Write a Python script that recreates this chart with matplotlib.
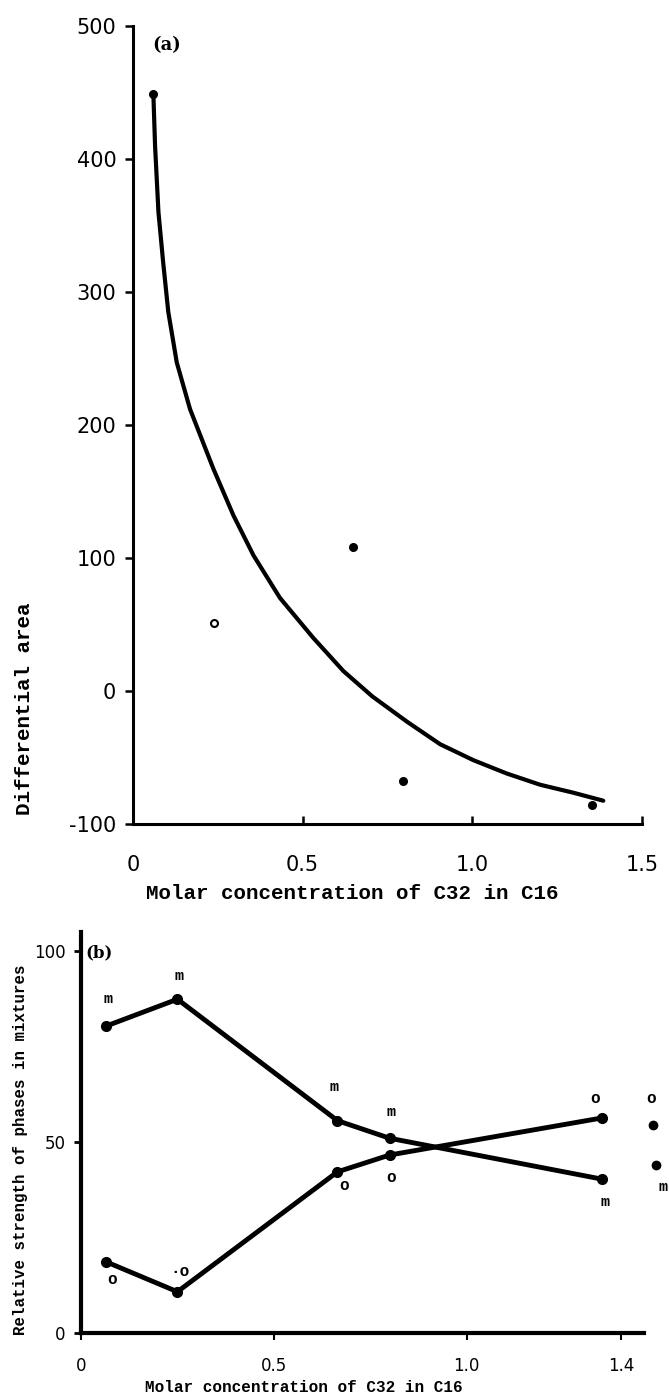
import matplotlib
matplotlib.use("Agg")
import matplotlib.pyplot as plt

# ---------------- data: panel (a) ----------------
a_curve_x = [0.060, 0.065, 0.075, 0.089, 0.104, 0.129, 0.168, 0.217, 0.237, 0.296,
             0.355, 0.433, 0.531, 0.620, 0.705, 0.807, 0.905, 1.003, 1.101, 1.200,
             1.298, 1.386]
a_curve_y = [449, 410, 360, 322, 285, 247, 212, 180, 167, 132,
             102, 70, 40, 15, -4, -23, -40, -52, -62, -70.5,
             -76.5, -82.5]
a_filled_x = [0.06, 0.649, 0.795, 1.352]
a_filled_y = [449, 108, -68, -86]
a_open_x = [0.239]
a_open_y = [51]
a_yticks = [-100, 0, 100, 200, 300, 400, 500]
a_yticklabels = ['-100', '0', '100', '200', '300', '400', '500']
a_xticks = [0, 0.5, 1.0, 1.5]
a_xticklabels = ['0', '0.5', '1.0', '1.5']

# ---------------- data: panel (b) ----------------
b_x = [0.066, 0.25, 0.665, 0.80, 1.35]
b_m_y = [80.4, 87.4, 55.6, 51.0, 40.3]
b_o_y = [18.6, 10.8, 42.2, 46.6, 56.3]
b_extra_x = [1.484, 1.49]
b_extra_y = [54.4, 44.0]
b_m_label_x = [0.07, 0.255, 0.657, 0.805, 1.36, 1.51]
b_m_label_y = [87.4, 93.5, 64.4, 57.9, 34.3, 38.2]
b_o_label_x = [0.081, 0.256, 0.681, 0.805, 1.332, 1.478]
b_o_label_y = [13.9, 16.2, 38.5, 40.8, 61.5, 61.5]
b_o_label_txt = ['o', '\u00b7o', 'o', 'o', 'o', 'o']
b_yticks = [0, 50, 100]
b_xticks = [0, 0.5, 1.0, 1.4]
b_xticklabels = ['0', '0.5', '1.0', '1.4']

W, H = 669, 1395
fig = plt.figure(figsize=(W / 100, H / 100), dpi=100)
mono = 'Liberation Mono'

# ---------------- panel (a) ----------------
axa = fig.add_axes([133 / W, 1 - 824 / H, 509 / W, 798 / H])
axa.set_xlim(0, 1.5)
axa.set_ylim(-100, 500)
for s in ['top', 'right']:
    axa.spines[s].set_visible(False)
for s in ['left', 'bottom']:
    axa.spines[s].set_linewidth(2.2)
axa.plot(a_curve_x, a_curve_y, color='black', lw=3.0, solid_capstyle='round',
         solid_joinstyle='round', zorder=3)
axa.plot(a_filled_x, a_filled_y, 'o', ms=5.5, mfc='black', mec='black', zorder=4, clip_on=False)
axa.plot(a_open_x, a_open_y, 'o', ms=5, mfc='white', mec='black', mew=1.5, zorder=4)
axa.set_yticks(a_yticks)
axa.set_yticklabels(a_yticklabels, fontsize=15, family='DejaVu Sans')
axa.set_xticks(a_xticks)
axa.set_xticklabels(a_xticklabels, fontsize=15, family='DejaVu Sans')
axa.tick_params(axis='y', direction='out', length=6, width=1.8, pad=6)
axa.tick_params(axis='x', direction='in', length=6, width=1.8, pad=22)
axa.set_xlabel('Molar concentration of C32 in C16', fontsize=15, family=mono,
               fontweight='bold')
axa.xaxis.set_label_coords(0.43, -0.0865)
axa.xaxis.label.set_va('center')
axa.set_ylabel('Differential area', fontsize=15, family=mono, fontweight='bold')
axa.yaxis.set_label_coords(-0.214, 0.144)
axa.yaxis.label.set_va('center')
axa.text(0.067, 0.976, '(a)', transform=axa.transAxes, fontsize=13, fontweight='bold',
         family='DejaVu Serif', ha='center', va='center')

# ---------------- panel (b) ----------------
bw = 1.5 * 385.7
axb = fig.add_axes([81 / W, 1 - 1333 / H, bw / W, 401 / H])
axb.set_xlim(0, 1.5)
axb.set_ylim(0, 105)
for s in ['top', 'right']:
    axb.spines[s].set_visible(False)
axb.spines['bottom'].set_bounds(0, 1.46)
for s in ['left', 'bottom']:
    axb.spines[s].set_linewidth(3.0)
axb.plot(b_x, b_m_y, '-o', color='black', lw=3.5, ms=7, zorder=3)
axb.plot(b_x, b_o_y, '-o', color='black', lw=3.5, ms=7, zorder=3)
axb.plot(b_extra_x, b_extra_y, 'o', color='black', ms=6, zorder=3, clip_on=False)
for x, y in zip(b_m_label_x, b_m_label_y):
    axb.text(x, y, 'm', fontsize=11, family=mono, fontweight='bold',
             ha='center', va='center', clip_on=False)
for x, y, t in zip(b_o_label_x, b_o_label_y, b_o_label_txt):
    axb.text(x, y, t, fontsize=11.5, family=mono, fontweight='bold',
             ha='center', va='center', clip_on=False)
axb.set_yticks(b_yticks)
axb.set_yticklabels([str(v) for v in b_yticks], fontsize=12, family='DejaVu Sans')
axb.set_xticks(b_xticks)
axb.set_xticklabels(b_xticklabels, fontsize=12, family='DejaVu Sans')
axb.tick_params(axis='y', direction='out', length=5, width=2, pad=6)
axb.tick_params(axis='x', direction='out', length=5, width=1.5, pad=12)
axb.set_xlabel('Molar concentration of C32 in C16', fontsize=11.5, family=mono,
               fontweight='bold')
axb.xaxis.set_label_coords(0.385, -0.135)
axb.xaxis.label.set_va('center')
axb.set_ylabel('Relative strength of phases in mixtures', fontsize=11.3, family=mono,
               fontweight='bold')
axb.yaxis.set_label_coords(-0.104, 0.456)
axb.yaxis.label.set_va('center')
axb.text(0.031, 0.948, '(b)', transform=axb.transAxes, fontsize=12, fontweight='bold',
         family='DejaVu Serif', ha='center', va='center')

fig.savefig('out.png', dpi=100, facecolor='white')
